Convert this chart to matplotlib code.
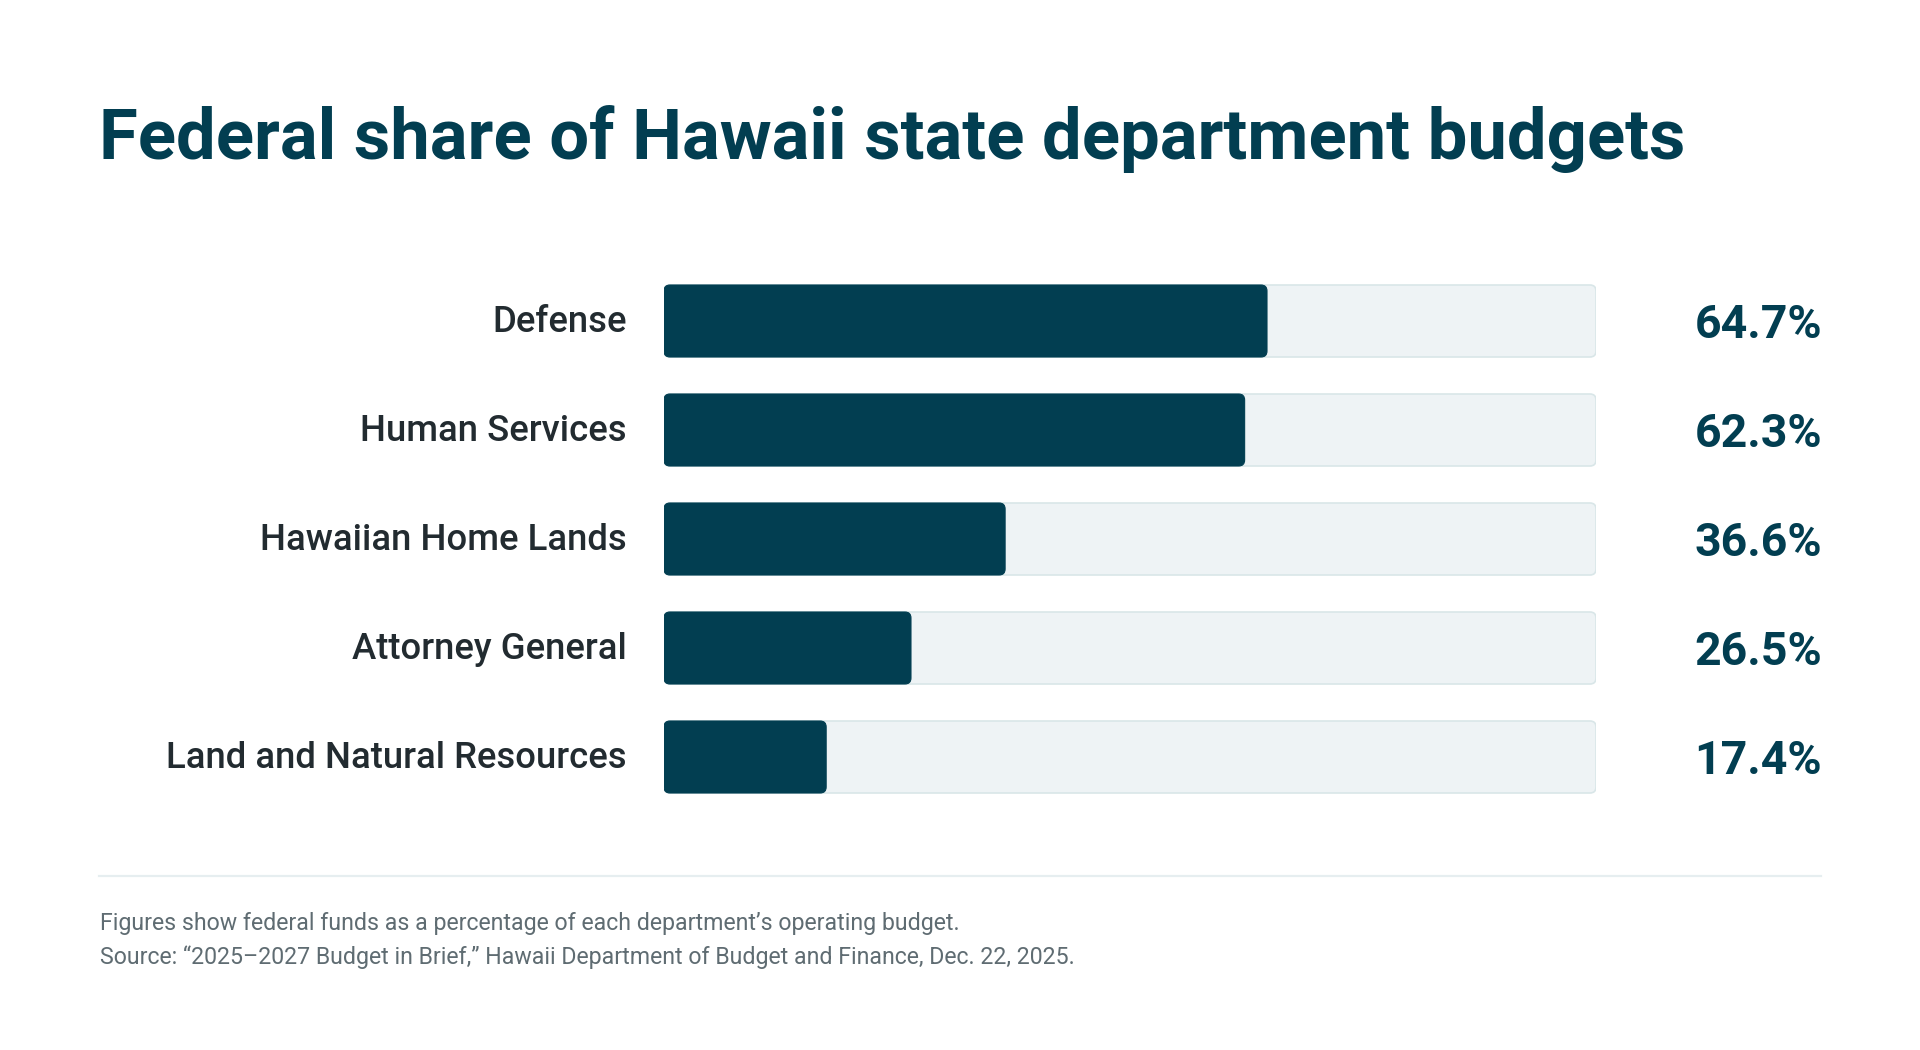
import matplotlib
matplotlib.use("Agg")
import matplotlib.pyplot as plt
import matplotlib.transforms as mtransforms
from matplotlib.patches import FancyBboxPatch
from matplotlib.lines import Line2D

plt.rcParams['font.family'] = ['Roboto', 'DejaVu Sans']

# data
departments = ["Defense", "Human Services", "Hawaiian Home Lands",
               "Attorney General", "Land and Natural Resources"]
federal_share = [64.7, 62.3, 36.6, 26.5, 17.4]

title = "Federal share of Hawaii state department budgets"
note = "Figures show federal funds as a percentage of each department\u2019s operating budget."
source = ("Source: \u201c2025\u20132027 Budget in Brief,\u201d Hawaii Department of Budget "
          "and Finance, Dec. 22, 2025.")

DARK = "#023e51"
TRACK = "#eef3f5"
TRACK_EDGE = "#d9e6e8"
LABEL = "#222b30"
GREY = "#5f6c72"

W, H = 1920, 1050
fig = plt.figure(figsize=(W / 100, H / 100), dpi=100)
fig.patch.set_facecolor("white")

# bar area in pixels
left_px, right_px = 664, 1596
row0_px, pitch_px = 321, 109
top_px = row0_px - pitch_px / 2
bot_px = top_px + pitch_px * len(departments)
ax = fig.add_axes([left_px / W, 1 - bot_px / H,
                   (right_px - left_px) / W, (bot_px - top_px) / H])
ax.set_xlim(0, 100)
ax.set_ylim(len(departments) - 0.5, -0.5)
ax.axis("off")

bar_h = 72 / pitch_px
xu_per_px = 100 / (right_px - left_px)
yu_per_px = 1 / pitch_px
aspect = yu_per_px / xu_per_px
r = 6 * xu_per_px

for i, (dep, val) in enumerate(zip(departments, federal_share)):
    track = FancyBboxPatch((0, i - bar_h / 2), 100, bar_h,
                           boxstyle=f"round,pad=0,rounding_size={r}",
                           mutation_aspect=aspect, facecolor=TRACK,
                           edgecolor=TRACK_EDGE, linewidth=1.2, zorder=1)
    ax.add_patch(track)
    bar = FancyBboxPatch((0, i - bar_h / 2), val, bar_h,
                         boxstyle=f"round,pad=0,rounding_size={r}",
                         mutation_aspect=aspect, facecolor=DARK,
                         edgecolor=DARK, linewidth=0.8, zorder=2)
    ax.add_patch(bar)

    lab_tr = mtransforms.offset_copy(ax.transData, fig=fig, x=-37, y=-11, units='dots')
    ax.text(0, i, dep, transform=lab_tr, ha="right", va="baseline",
            fontsize=26.3, fontweight="medium", color=LABEL, clip_on=False)
    val_tr = mtransforms.offset_copy(ax.transData, fig=fig, x=1822 - right_px, y=-17,
                                     units='dots')
    ax.text(100, i, f"{val:.1f}%", transform=val_tr, ha="right", va="baseline",
            fontsize=33.5, fontweight="bold", color=DARK, clip_on=False)

# title
fig.text(99 / W, 1 - 159 / H, title, ha="left", va="baseline",
         fontsize=50.9, fontweight="bold", color=DARK)

# separator
fig.add_artist(Line2D([99 / W, 1821 / W], [1 - 876 / H, 1 - 876 / H],
                      color="#e6eef0", linewidth=1.6))

# footnotes
fig.text(100 / W, 1 - 930 / H, note, ha="left", va="baseline",
         fontsize=16.7, color=GREY)
fig.text(100 / W, 1 - 964 / H, source, ha="left", va="baseline",
         fontsize=16.7, color=GREY)

fig.savefig("out.png", dpi=100, facecolor="white")
